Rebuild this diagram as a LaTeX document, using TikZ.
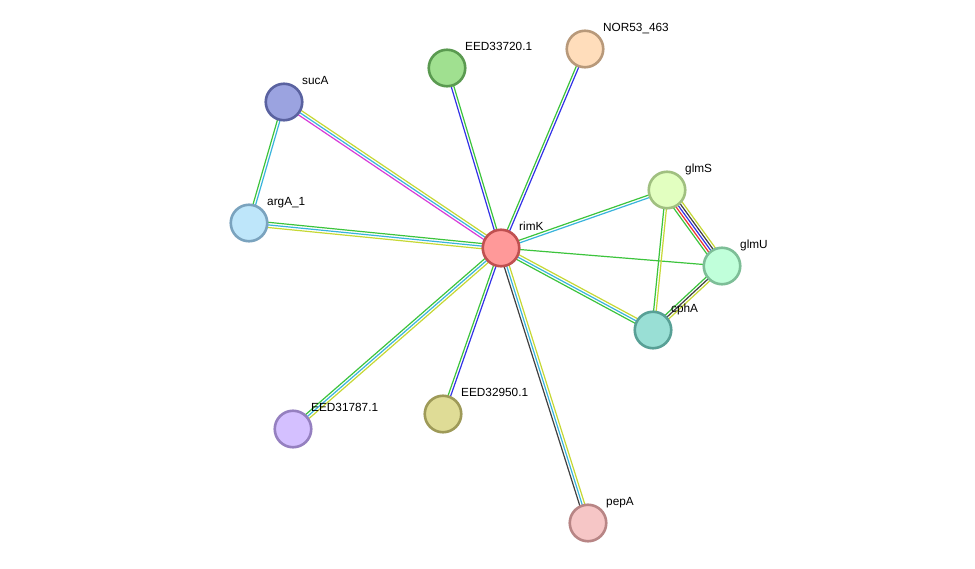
\documentclass[tikz,border=0pt]{standalone}
\usepackage{fontspec}
\setmainfont{Liberation Sans}
\usetikzlibrary{calc,backgrounds}
\definecolor{cgreen}{RGB}{60,196,60}
\definecolor{ccyan}{RGB}{58,180,220}
\definecolor{cyel}{RGB}{198,216,52}
\definecolor{cmag}{RGB}{216,60,216}
\definecolor{cblue}{RGB}{50,50,230}
\definecolor{cblack}{RGB}{64,64,64}
\definecolor{cred}{RGB}{235,50,50}
\tikzset{
  prot/.style={circle, minimum size=36.5pt, inner sep=0pt, line width=2.6pt},
  lbl/.style={anchor=base west, inner sep=0pt, font=\fontsize{11.8}{14}\selectfont},
  edgeline/.style={line width=1.2pt},
}
\newcommand\medge[4]{%
  \foreach \c [count=\i] in {#4}{%
    \pgfmathsetmacro\off{((#3+1)/2-\i)*2.6}%
    \draw[\c, edgeline] ($(#1)!\off pt!90:(#2)$) -- ($(#2)!\off pt!-90:(#1)$);
  }}
\newcommand\prot[6]{% name, x, y, fill hex, border hex, label
  \definecolor{#1fill}{HTML}{#4}%
  \definecolor{#1draw}{HTML}{#5}%
  \node[prot, fill=#1fill, draw=#1draw] (#1) at (#2,#3) {};
  \node[lbl] (#1-l) at (#2+18,#3-17.5) {#6};
}
\begin{document}
\begin{tikzpicture}[x=1pt,y=-1pt]
\useasboundingbox (0,0) rectangle (975,569);
\prot{rimK}{501}{248}{FF9999}{C05050}{rimK}
\prot{eedA}{447}{68}{A0E090}{5A9A50}{EED33720.1}
\prot{nor}{585}{49}{FFDDBB}{B8997A}{NOR53\_463}
\prot{sucA}{284}{102}{9BA3E0}{5A62A0}{sucA}
\prot{argA}{249}{223}{BEE6FA}{7AA3BE}{argA\_1}
\prot{glmS}{667}{190}{E2FFC0}{A0C080}{glmS}
\prot{glmU}{722}{266}{C0FFDA}{7DBE97}{glmU}
\prot{cphA}{653}{330}{99DFD5}{58A096}{cphA}
\prot{eedB}{293}{429}{D4C0FF}{9580C0}{EED31787.1}
\prot{eedC}{443}{414}{DFDC96}{9E9A58}{EED32950.1}
\prot{pepA}{588}{523}{F6C6C6}{B88585}{pepA}
\begin{pgfonlayer}{background}
\fill[white] (0,0) rectangle (975,569);
\medge{rimK}{sucA}{3}{cmag,ccyan,cyel}
\medge{sucA}{argA}{2}{ccyan,cgreen}
\medge{argA}{rimK}{3}{cgreen,ccyan,cyel}
\medge{rimK}{eedA}{2}{cblue,cgreen}
\medge{rimK}{nor}{2}{cgreen,cblue}
\medge{rimK}{glmS}{2}{cgreen,ccyan}
\medge{rimK}{glmU}{1}{cgreen}
\medge{rimK}{cphA}{3}{cyel,ccyan,cgreen}
\medge{rimK}{eedB}{3}{cyel,ccyan,cgreen}
\medge{rimK}{eedC}{2}{cblue,cgreen}
\medge{rimK}{pepA}{3}{cyel,ccyan,cblack}
\medge{glmS}{glmU}{5}{cyel,cblack,cblue,cred,cgreen}
\medge{glmS}{cphA}{2}{cyel,cgreen}
\medge{glmU}{cphA}{3}{cyel,cblack,cgreen}
\end{pgfonlayer}
\end{tikzpicture}
\end{document}
